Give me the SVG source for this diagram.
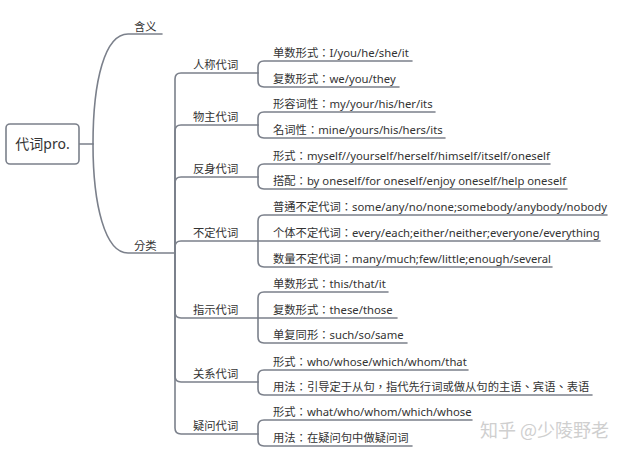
<svg xmlns="http://www.w3.org/2000/svg" width="631" height="456" viewBox="0 0 631 456">
<style>
.c{fill:none;stroke:#7b808b;stroke-width:1.6;stroke-linecap:round}
.t{font-family:"Noto Sans","Noto Sans CJK TC",sans-serif;fill:#333;font-size:11.3px}
.b{font-size:11.3px}
.r{font-size:14px}
</style>
<rect width="631" height="456" fill="#fff"/>
<g id="connectors">
<path class="c" d="M79,144 H93"/>
<path class="c" d="M93,144 C93,80 105,34 128,34 H162"/>
<path class="c" d="M93,144 C93,205 105,253 128,253 H175"/>
<path class="c" d="M175,253 V79 Q175,73 181,73 H258"/>
<path class="c" d="M175,253 V131 Q175,125 181,125 H258"/>
<path class="c" d="M175,253 V183 Q175,177 181,177 H258"/>
<path class="c" d="M175,253 V247 Q175,241 181,241 H258"/>
<path class="c" d="M175,253 V312 Q175,318 181,318 H258"/>
<path class="c" d="M175,253 V376 Q175,382 181,382 H258"/>
<path class="c" d="M175,253 V428 Q175,434 181,434 H258"/>
<path class="c" d="M258,73 V67 Q258,61 264,61 H412"/>
<path class="c" d="M258,73 V81 Q258,87 264,87 H399"/>
<path class="c" d="M258,125 V118 Q258,112 264,112 H435"/>
<path class="c" d="M258,125 V132 Q258,138 264,138 H445"/>
<path class="c" d="M258,177 V170 Q258,164 264,164 H550"/>
<path class="c" d="M258,177 V183 Q258,189 264,189 H567"/>
<path class="c" d="M258,241 V221 Q258,215 264,215 H607"/>
<path class="c" d="M258,241 H600"/>
<path class="c" d="M258,241 V261 Q258,267 264,267 H552"/>
<path class="c" d="M258,318 V298 Q258,292 264,292 H388"/>
<path class="c" d="M258,318 H397"/>
<path class="c" d="M258,318 V337 Q258,343 264,343 H407"/>
<path class="c" d="M258,382 V376 Q258,370 264,370 H468"/>
<path class="c" d="M258,382 V389 Q258,395 264,395 H592"/>
<path class="c" d="M258,434 V426 Q258,420 264,420 H472"/>
<path class="c" d="M258,434 V440 Q258,446 264,446 H412"/>
</g>
<g id="root"><rect x="6" y="124" width="73" height="40" rx="4" fill="#fff" stroke="#7b808b" stroke-width="1.6"/><text class="t r" x="42.5" y="149" text-anchor="middle">代词pro.</text></g>
<g id="n-hanyi"><text class="t b" x="134" y="31">含义</text></g>
<g id="n-fenlei"><text class="t b" x="134" y="250">分类</text></g>
<g id="n-renchen"><text class="t b" x="193" y="69">人称代词</text></g>
<g id="n-wuzhu"><text class="t b" x="193" y="121">物主代词</text></g>
<g id="n-fanshen"><text class="t b" x="193" y="173">反身代词</text></g>
<g id="n-buding"><text class="t b" x="193" y="237">不定代词</text></g>
<g id="n-zhishi"><text class="t b" x="193" y="314">指示代词</text></g>
<g id="n-guanxi"><text class="t b" x="193" y="378">关系代词</text></g>
<g id="n-yiwen"><text class="t b" x="193" y="430">疑问代词</text></g>
<g id="l1"><text class="t" x="273" y="57">单数形式：I/you/he/she/it</text></g>
<g id="l2"><text class="t" x="273" y="83">复数形式：we/you/they</text></g>
<g id="l3"><text class="t" x="273" y="108">形容词性：my/your/his/her/its</text></g>
<g id="l4"><text class="t" x="273" y="134">名词性：mine/yours/his/hers/its</text></g>
<g id="l5"><text class="t" x="273" y="160">形式：myself//yourself/herself/himself/itself/oneself</text></g>
<g id="l6"><text class="t" x="273" y="185">搭配：by oneself/for oneself/enjoy oneself/help oneself</text></g>
<g id="l7"><text class="t" x="273" y="211">普通不定代词：some/any/no/none;somebody/anybody/nobody</text></g>
<g id="l8"><text class="t" x="273" y="237">个体不定代词：every/each;either/neither;everyone/everything</text></g>
<g id="l9"><text class="t" x="273" y="263">数量不定代词：many/much;few/little;enough/several</text></g>
<g id="l10"><text class="t" x="273" y="288">单数形式：this/that/it</text></g>
<g id="l11"><text class="t" x="273" y="314">复数形式：these/those</text></g>
<g id="l12"><text class="t" x="273" y="339">单复同形：such/so/same</text></g>
<g id="l13"><text class="t" x="273" y="366">形式：who/whose/which/whom/that</text></g>
<g id="l14"><text class="t" x="273" y="391">用法：引导定于从句，指代先行词或做从句的主语、宾语、表语</text></g>
<g id="l15"><text class="t" x="273" y="416">形式：what/who/whom/which/whose</text></g>
<g id="l16"><text class="t" x="273" y="442">用法：在疑问句中做疑问词</text></g>
<text x="480" y="437" font-family="Noto Sans CJK SC,sans-serif" font-size="18" fill="#cfcfcf">知乎 @少陵野老</text>
</svg>
